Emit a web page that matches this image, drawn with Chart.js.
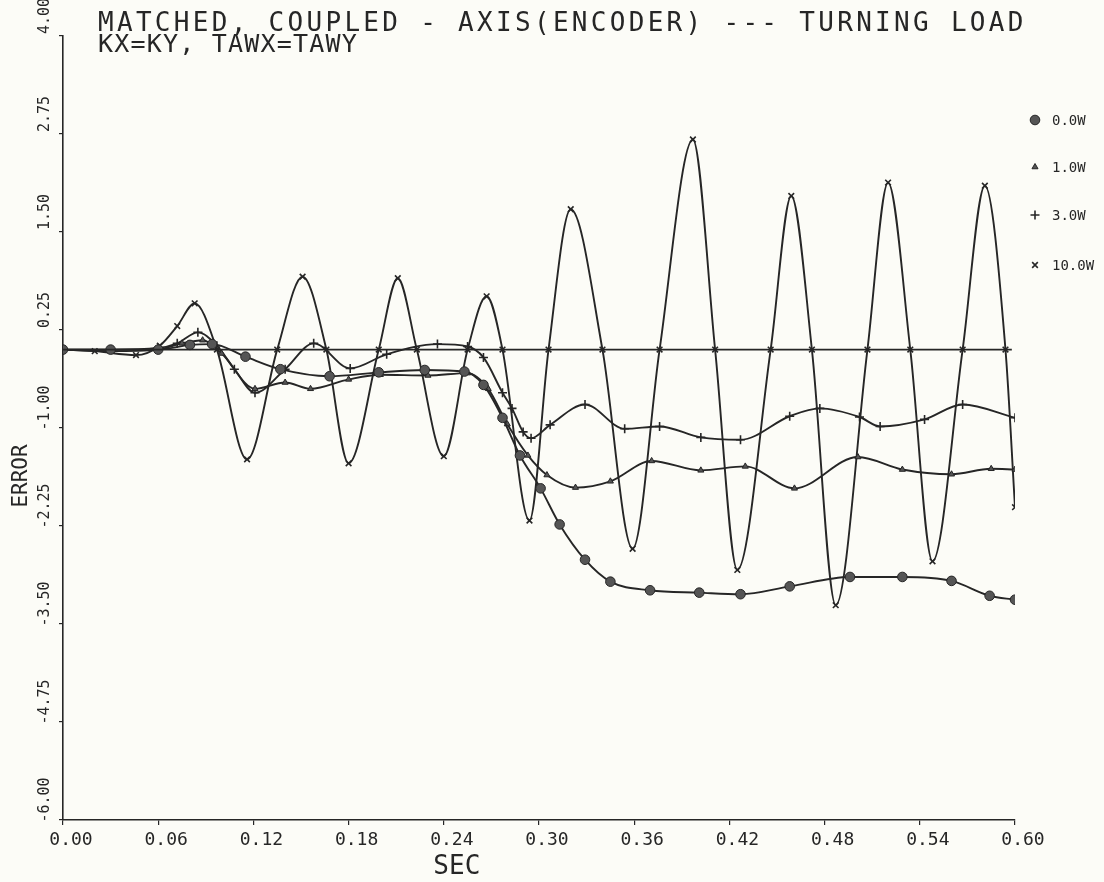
<!DOCTYPE html>
<html><head><meta charset="utf-8">
<script src="https://cdn.jsdelivr.net/npm/chart.js@4.4.1/dist/chart.umd.min.js"></script>
<style>html,body{margin:0;padding:0;background:#fcfcf7;}#wrap{width:1104px;height:882px;position:relative;}</style>
</head><body><div id="wrap"><canvas id="c"></canvas></div>
<script>
const titleLines = ['MATCHED, COUPLED - AXIS(ENCODER) --- TURNING LOAD', 'KX=KY, TAWX=TAWY'];
const xAxisTitle = 'SEC';
const yAxisTitle = 'ERROR';
const xTicks = [0, 0.06, 0.12, 0.18, 0.24, 0.30, 0.36, 0.42, 0.48, 0.54, 0.60];
const yTicks = [-6, -4.75, -3.5, -2.25, -1, 0.25, 1.5, 2.75, 4];
const seriesNames = ['0.0W', '1.0W', '3.0W', '10.0W'];

// 0.0 W (circles)
const t0W = [0, 0.03, 0.06, 0.08, 0.094, 0.115, 0.137, 0.168, 0.199, 0.228, 0.253, 0.265, 0.277, 0.288, 0.301, 0.313, 0.329, 0.345, 0.370, 0.401, 0.427, 0.458, 0.496, 0.529, 0.560, 0.584, 0.600];
const v0W = [0, 0.0, 0.0, 0.06, 0.07, -0.09, -0.25, -0.34, -0.29, -0.26, -0.28, -0.45, -0.87, -1.35, -1.77, -2.23, -2.68, -2.96, -3.07, -3.10, -3.12, -3.02, -2.90, -2.90, -2.95, -3.14, -3.19];

// 1.0 W (triangles)
const t1W = [0, 0.03, 0.06, 0.075, 0.088, 0.1, 0.121, 0.14, 0.156, 0.18, 0.2, 0.23, 0.255, 0.268, 0.28, 0.293, 0.305, 0.323, 0.345, 0.371, 0.402, 0.430, 0.461, 0.501, 0.529, 0.560, 0.585, 0.600];
const v1W = [0, -0.02, 0.0, 0.08, 0.12, -0.05, -0.5, -0.42, -0.5, -0.38, -0.32, -0.33, -0.3, -0.5, -0.95, -1.35, -1.6, -1.76, -1.68, -1.42, -1.54, -1.49, -1.77, -1.37, -1.53, -1.59, -1.52, -1.53];

// 3.0 W (plus)
const t3W = [0, 0.03, 0.06, 0.072, 0.085, 0.097, 0.108, 0.121, 0.14, 0.158, 0.181, 0.204, 0.236, 0.255, 0.265, 0.277, 0.283, 0.29, 0.295, 0.307, 0.329, 0.354, 0.376, 0.402, 0.427, 0.458, 0.477, 0.502, 0.515, 0.543, 0.567, 0.600];
const v3W = [0, 0, 0.02, 0.08, 0.22, 0.05, -0.25, -0.55, -0.25, 0.08, -0.24, -0.06, 0.07, 0.04, -0.1, -0.55, -0.75, -1.05, -1.13, -0.96, -0.70, -1.01, -0.98, -1.12, -1.15, -0.85, -0.75, -0.86, -0.98, -0.89, -0.70, -0.87];

// 10.0 W (x)
const t10W = [0, 0.02, 0.046, 0.061, 0.072, 0.083, 0.097, 0.116, 0.135, 0.151, 0.166, 0.180, 0.199, 0.211, 0.223, 0.240, 0.255, 0.267, 0.277, 0.294, 0.306, 0.320, 0.340, 0.359, 0.376, 0.397, 0.411, 0.425, 0.446, 0.459, 0.472, 0.487, 0.507, 0.520, 0.534, 0.548, 0.567, 0.581, 0.594, 0.600];
const v10W = [0, -0.02, -0.07, 0.05, 0.3, 0.59, 0, -1.40, 0, 0.93, 0, -1.45, 0, 0.91, 0, -1.36, 0, 0.68, 0, -2.18, 0, 1.79, 0, -2.54, 0, 2.68, 0, -2.81, 0, 1.96, 0, -3.26, 0, 2.13, 0, -2.70, 0, 2.09, 0, -2.01];

// zero reference line
const tZero = [0, 0.598];
const vZero = [0, 0];

const INK = '#262626';
const MONO = '"DejaVu Sans Mono", "Liberation Mono", monospace';
const pts = (t, v) => t.map((x, i) => ({x, y: v[i]}));

const common = {borderColor: INK, borderWidth: 1.9, cubicInterpolationMode: 'monotone', fill: false};
const datasets = [
  Object.assign({}, common, {label: 'zero', data: pts(tZero, vZero), pointRadius: 0, borderWidth: 1.6, cubicInterpolationMode: 'default', tension: 0}),
  Object.assign({}, common, {label: seriesNames[0], data: pts(t0W, v0W), pointStyle: 'circle', pointRadius: 4.8, pointBackgroundColor: '#555', pointBorderColor: INK, pointBorderWidth: 1}),
  Object.assign({}, common, {label: seriesNames[1], data: pts(t1W, v1W), pointStyle: 'triangle', pointRadius: 3.5, pointBackgroundColor: '#555', pointBorderColor: INK, pointBorderWidth: 1}),
  Object.assign({}, common, {label: seriesNames[2], data: pts(t3W, v3W), pointStyle: 'cross', pointRadius: 4.5, pointBackgroundColor: INK, pointBorderColor: INK, pointBorderWidth: 1.6}),
  Object.assign({}, common, {label: seriesNames[3], data: pts(t10W, v10W), pointStyle: 'crossRot', pointRadius: 4, pointBackgroundColor: INK, pointBorderColor: INK, pointBorderWidth: 1.6})
];

const legendRows = [120, 167, 215, 265];

const decor = {
  id: 'decor',
  beforeDraw(chart) {
    const ctx = chart.ctx;
    ctx.save(); ctx.fillStyle = '#fcfcf7'; ctx.fillRect(0, 0, chart.width, chart.height); ctx.restore();
  },
  afterDraw(chart) {
    const ctx = chart.ctx;
    const xs = chart.scales.x;
    ctx.save();
    ctx.fillStyle = INK;
    ctx.textAlign = 'left';
    ctx.textBaseline = 'alphabetic';
    ctx.font = '26px ' + MONO;
    if ('letterSpacing' in ctx) ctx.letterSpacing = '3.3px';
    ctx.fillText(titleLines[0], 98, 31);
    ctx.font = '25px ' + MONO;
    if ('letterSpacing' in ctx) ctx.letterSpacing = '1.2px';
    ctx.fillText(titleLines[1], 98, 52);
    if ('letterSpacing' in ctx) ctx.letterSpacing = '0px';
    // x axis title
    ctx.font = '26px ' + MONO;
    ctx.textAlign = 'center';
    ctx.textBaseline = 'middle';
    ctx.fillText(xAxisTitle, xs.getPixelForValue(0.24) + 13, 867);
    // y axis title
    ctx.save();
    ctx.translate(22, 476);
    ctx.rotate(-Math.PI / 2);
    ctx.font = '21px ' + MONO;
    ctx.fillText(yAxisTitle, 0, 0);
    ctx.restore();
    // legend
    ctx.textAlign = 'left';
    ctx.font = '14px ' + MONO;
    for (let i = 0; i < 4; i++) {
      const ds = chart.data.datasets[i + 1];
      const y = legendRows[i];
      ctx.fillStyle = ds.pointBackgroundColor;
      ctx.strokeStyle = ds.pointBorderColor;
      ctx.lineWidth = ds.pointBorderWidth;
      if (Chart.helpers && Chart.helpers.drawPoint) {
        Chart.helpers.drawPoint(ctx, {pointStyle: ds.pointStyle, radius: ds.pointRadius, rotation: 0, borderWidth: ds.pointBorderWidth}, 1035, y);
      }
      ctx.fillStyle = INK;
      ctx.fillText(ds.label, 1052, y + 1);
    }
    ctx.restore();
  }
};

new Chart(document.getElementById('c'), {
  type: 'line',
  data: {datasets},
  options: {
    responsive: true,
    maintainAspectRatio: false,
    animation: false,
    layout: {padding: {top: 36, right: 89, bottom: 0, left: 0}},
    plugins: {legend: {display: false}, title: {display: false}, tooltip: {enabled: false}},
    scales: {
      x: {
        type: 'linear', min: 0, max: 0.6,
        afterBuildTicks: s => { s.ticks = xTicks.map(v => ({value: v})); },
        afterFit: s => { s.height = 62; },
        ticks: {callback: v => Number(v).toFixed(2), font: {family: MONO, size: 18}, color: INK, labelOffset: 8, padding: 5, autoSkip: false, maxRotation: 0},
        grid: {display: true, drawOnChartArea: false, drawTicks: true, tickLength: 5, color: INK, lineWidth: 1.2},
        border: {display: true, color: INK, width: 1.6}
      },
      y: {
        type: 'linear', min: -6, max: 4,
        afterBuildTicks: s => { s.ticks = yTicks.map(v => ({value: v})); },
        afterFit: s => { s.width = 63; },
        ticks: {callback: v => Number(v).toFixed(2), font: {family: MONO, size: 15}, color: INK, minRotation: 90, maxRotation: 90, crossAlign: 'center', labelOffset: -20, padding: -9, autoSkip: false},
        grid: {display: true, drawOnChartArea: false, drawTicks: true, tickLength: 4, color: INK, lineWidth: 1.2},
        border: {display: true, color: INK, width: 1.6}
      }
    }
  },
  plugins: [decor]
});
</script></body></html>
